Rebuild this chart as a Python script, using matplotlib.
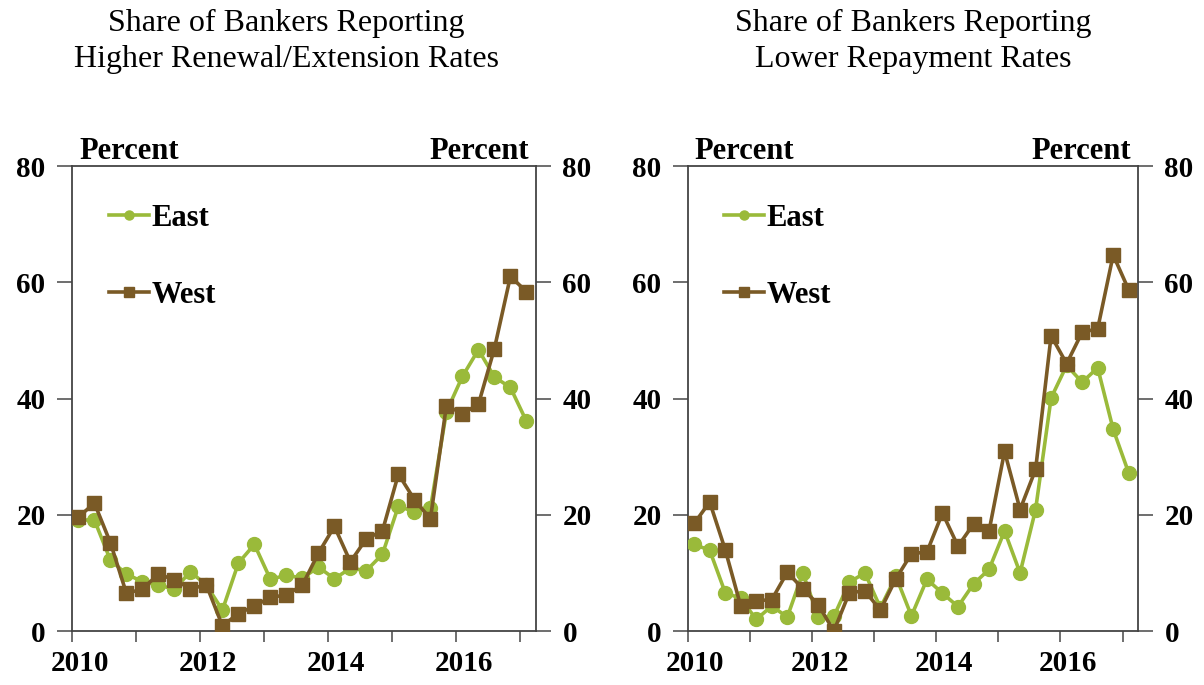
import numpy as np
import matplotlib.pyplot as plt

# quarterly survey dates, 2010Q1 .. 2017Q1
quarters = 2010.1 + np.arange(29) / 4.0

renew_east = [19.1, 19.1, 12.2, 9.8, 8.5, 7.9, 7.2, 10.2, 7.9, 3.6,
              11.7, 14.9, 8.9, 9.6, 9.1, 11.0, 9.0, 10.8, 10.4, 13.2,
              21.5, 20.5, 21.1, 37.7, 43.8, 48.4, 43.7, 41.9, 36.1]
renew_west = [19.6, 22.0, 15.2, 6.5, 7.2, 9.8, 8.8, 7.3, 7.9, 0.9,
              3.0, 4.3, 5.8, 6.2, 7.9, 13.4, 18.0, 11.9, 15.9, 17.2,
              27.0, 22.6, 19.3, 38.8, 37.4, 39.0, 48.6, 61.0, 58.4]

repay_east = [14.9, 13.9, 6.6, 5.6, 2.0, 4.3, 2.4, 10.0, 2.4, 2.5,
              8.4, 10.0, 4.0, 9.4, 2.6, 8.9, 6.5, 4.2, 8.1, 10.6,
              17.2, 10.0, 20.9, 40.1, 45.7, 42.8, 45.3, 34.7, 27.2]
repay_west = [18.5, 22.2, 14.0, 4.3, 5.2, 5.4, 10.1, 7.3, 4.5, 0.0,
              6.6, 6.9, 3.6, 9.0, 13.3, 13.6, 20.3, 14.6, 18.4, 17.2,
              30.9, 20.9, 27.8, 50.8, 46.0, 51.4, 52.0, 64.7, 58.7]

titles = ["Share of Bankers Reporting\nHigher Renewal/Extension Rates",
          "Share of Bankers Reporting\nLower Repayment Rates"]
year_labels = ["2010", "2012", "2014", "2016"]

green = "#9aba3a"
brown = "#7a5a26"
serif = ["Liberation Serif", "DejaVu Serif"]

fig = plt.figure(figsize=(12.04, 6.85), dpi=100)
axes = [fig.add_axes([0.0598, 0.0788, 0.3854, 0.6788]),
        fig.add_axes([0.5714, 0.0788, 0.3738, 0.6788])]
title_x = [286 / 1204, 913 / 1204]

for ax, east, west, title, tx in zip(axes, [renew_east, repay_east],
                                     [renew_west, repay_west], titles, title_x):
    ax.plot(quarters, east, color=green, lw=2.6, marker="o", ms=10, label="East", zorder=3)
    ax.plot(quarters, west, color=brown, lw=2.6, marker="s", ms=10, label="West", zorder=4)
    ax.set_xlim(2010, 2017.25)
    ax.set_ylim(0, 80)
    ax.set_yticks([0, 20, 40, 60, 80])
    ax.set_xticks(np.arange(2010, 2018), labels=[""] * 8)
    ax.set_xticks([int(y) + 0.12 for y in year_labels], labels=year_labels, minor=True)
    ax.tick_params(axis="x", which="major", direction="out", length=8, width=1.2, color="#555555")
    ax.tick_params(axis="x", which="minor", length=0, pad=14)
    ax.tick_params(axis="y", direction="out", length=11, width=1.2, color="#555555",
                   left=True, right=True, labelleft=True, labelright=True, pad=8)
    for lab in ax.get_xticklabels(minor=True) + ax.get_yticklabels():
        lab.set_fontfamily(serif)
        lab.set_fontweight("bold")
        lab.set_fontsize(21)
    for sp in ax.spines.values():
        sp.set_color("#444444")
        sp.set_linewidth(1.3)
    ax.legend(loc="upper left", bbox_to_anchor=(0.08, 0.918), frameon=False,
              labelspacing=1.55, handlelength=1.3, handletextpad=0.08, borderpad=0,
              borderaxespad=0, prop={"family": serif, "weight": "bold", "size": 22},
              markerscale=0.65)
    ax.text(0.015, 1.0, "Percent", transform=ax.transAxes, ha="left", va="bottom",
            family=serif, weight="bold", fontsize=22)
    ax.text(0.985, 1.0, "Percent", transform=ax.transAxes, ha="right", va="bottom",
            family=serif, weight="bold", fontsize=22)
    fig.text(tx, 0.94, title, ha="center", va="center", family=serif, fontsize=23,
             linespacing=1.32)

fig.savefig("out.png", dpi=100)
